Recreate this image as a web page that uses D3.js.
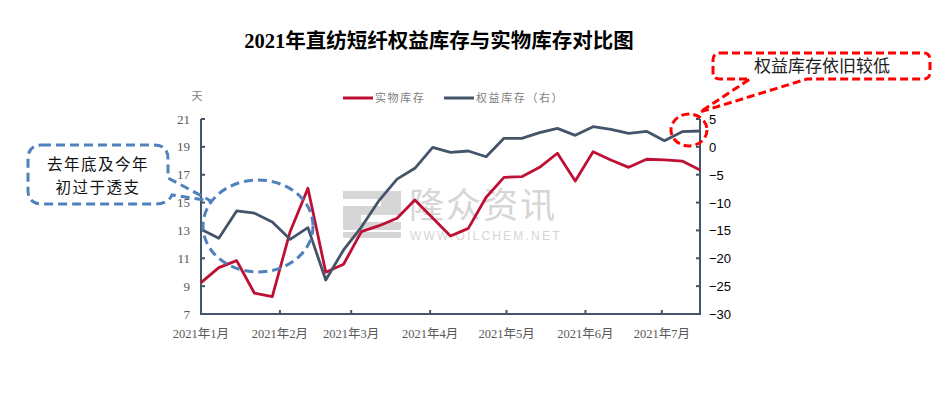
<!DOCTYPE html>
<html>
<head>
<meta charset="utf-8">
<script src="https://cdn.jsdelivr.net/npm/d3@7"></script>
<style>
  html, body { margin: 0; padding: 0; background: #ffffff; }
  svg { display: block; }
</style>
</head>
<body>
<svg id="chart" width="949" height="394"></svg>
<script>
// ---------- data ----------
const dates = [
  "2021-01-01","2021-01-08","2021-01-15","2021-01-22","2021-01-29",
  "2021-02-05","2021-02-12","2021-02-19","2021-02-26",
  "2021-03-05","2021-03-12","2021-03-19","2021-03-26",
  "2021-04-02","2021-04-09","2021-04-16","2021-04-23","2021-04-30",
  "2021-05-07","2021-05-14","2021-05-21","2021-05-28",
  "2021-06-04","2021-06-11","2021-06-18","2021-06-25",
  "2021-07-02","2021-07-09","2021-07-16"
];
// 实物库存 (left axis, days)
const physical = [9.25, 10.33, 10.83, 8.49, 8.24, 12.91, 16.03, 10.0, 10.57,
  12.91, 13.34, 13.87, 15.19, 13.9, 12.6, 13.15, 15.38, 16.81, 16.86, 17.53,
  18.54, 16.55, 18.65, 18.06, 17.53, 18.11, 18.06, 17.98, 17.34];
// 权益库存 (right axis)
const equity = [-14.8, -16.4, -11.5, -11.9, -13.5, -16.6, -14.5, -23.9, -18.5,
  -14.4, -9.6, -5.8, -3.85, -0.08, -1.0, -0.74, -1.77, 1.53, 1.53, 2.55,
  3.32, 2.07, 3.62, 3.15, 2.43, 2.79, 1.11, 2.73, 2.85];
const monthTicks = ["2021-01-01","2021-02-01","2021-03-01","2021-04-01","2021-05-01","2021-06-01","2021-07-01"];
const monthLabels = ["2021年1月","2021年2月","2021年3月","2021年4月","2021年5月","2021年6月","2021年7月"];
const leftTicks = [7, 9, 11, 13, 15, 17, 19, 21];
const rightTicks = [-30, -25, -20, -15, -10, -5, 0, 5];
const seriesNames = ["实物库存", "权益库存（右）"];
const title = "2021年直纺短纤权益库存与实物库存对比图";
const unitLabel = "天";
const noteLeft = ["去年底及今年", "初过于透支"];
const noteRight = "权益库存依旧较低";

// ---------- setup ----------
const svg = d3.select("#chart");
const parse = d3.utcParse("%Y-%m-%d");
const L = 201, R = 700, T = 119, B = 314;
const AXIS = "#44546A", RED = "#BE0F34", GRAY = "#44546A", LBL = "#595959";
const serif = "'Liberation Serif','Noto Sans CJK SC',serif";
const cjk = "'Noto Sans CJK SC','Liberation Serif',sans-serif";

const x = d3.scaleUtc().domain([parse(dates[0]), parse(dates[dates.length - 1])]).range([L, R]);
const yL = d3.scaleLinear().domain([7, 21]).range([B, T]);
const yR = d3.scaleLinear().domain([-30, 5]).range([B, T]);

// title
svg.append("text").attr("x", 439).attr("y", 48).attr("text-anchor", "middle")
  .attr("font-family", serif).attr("font-weight", "bold").attr("font-size", 20.5)
  .attr("fill", "#000").text(title);

// unit
svg.append("text").attr("x", 197).attr("y", 100).attr("text-anchor", "middle")
  .attr("font-family", cjk).attr("font-size", 11).attr("fill", "#808080").text(unitLabel);

// legend
const leg = svg.append("g");
[[343, RED, seriesNames[0]], [444, GRAY, seriesNames[1]]].forEach(([lx, c, t]) => {
  leg.append("line").attr("x1", lx).attr("x2", lx + 30).attr("y1", 98).attr("y2", 98)
    .attr("stroke", c).attr("stroke-width", 3);
  leg.append("text").attr("x", lx + 32).attr("y", 102).attr("font-family", cjk)
    .attr("font-size", 11).attr("letter-spacing", 1.6).attr("fill", "#808080").text(t);
});

// watermark
const wm = svg.append("g").attr("opacity", 0.85);
wm.append("rect").attr("x", 343).attr("y", 191).attr("width", 58).attr("height", 47).attr("fill", "#cfcfcf");
wm.append("rect").attr("x", 343).attr("y", 199).attr("width", 38).attr("height", 7).attr("fill", "#fff");
wm.append("rect").attr("x", 361).attr("y", 215).attr("width", 40).attr("height", 7).attr("fill", "#fff");
wm.append("rect").attr("x", 343).attr("y", 230).attr("width", 58).attr("height", 2).attr("fill", "#fff");
wm.append("text").attr("x", 409).attr("y", 218).attr("font-family", cjk).attr("font-size", 35)
  .attr("letter-spacing", 2).attr("fill", "#cfcfcf").text("隆众资讯");
wm.append("text").attr("x", 410).attr("y", 240).attr("font-family", "'Liberation Sans',sans-serif")
  .attr("font-size", 12).attr("letter-spacing", 2.2).attr("fill", "#cfcfcf").text("WWW.OILCHEM.NET");

// axes
const axisG = svg.append("g");
axisG.append("line").attr("x1", L).attr("x2", L).attr("y1", T).attr("y2", B).attr("stroke", AXIS).attr("stroke-width", 2);
axisG.append("line").attr("x1", R).attr("x2", R).attr("y1", T).attr("y2", B).attr("stroke", AXIS).attr("stroke-width", 2);
axisG.append("line").attr("x1", L - 1).attr("x2", R + 1).attr("y1", B).attr("y2", B).attr("stroke", AXIS).attr("stroke-width", 2);

leftTicks.forEach(v => {
  axisG.append("line").attr("x1", L).attr("x2", L + 4).attr("y1", yL(v)).attr("y2", yL(v)).attr("stroke", AXIS).attr("stroke-width", 2);
  axisG.append("text").attr("x", 190).attr("y", yL(v) + 4.5).attr("text-anchor", "end")
    .attr("font-family", serif).attr("font-size", 13).attr("fill", LBL).text(v);
});
rightTicks.forEach(v => {
  axisG.append("line").attr("x1", R - 4).attr("x2", R).attr("y1", yR(v)).attr("y2", yR(v)).attr("stroke", AXIS).attr("stroke-width", 2);
  axisG.append("text").attr("x", 709).attr("y", yR(v) + 5).attr("text-anchor", "start")
    .attr("font-family", "'Liberation Sans',sans-serif").attr("font-size", 13).attr("fill", "#000")
    .text(v < 0 ? "\u2212" + Math.abs(v) : String(v));
});
monthTicks.forEach((d, i) => {
  const px = x(parse(d));
  if (i > 0) axisG.append("line").attr("x1", px).attr("x2", px).attr("y1", B).attr("y2", B - 4).attr("stroke", AXIS).attr("stroke-width", 2);
  axisG.append("text").attr("x", px).attr("y", 338).attr("text-anchor", "middle")
    .attr("font-family", serif).attr("font-size", 12.5).attr("fill", LBL).text(monthLabels[i]);
});

// lines
const lineL = d3.line().x((d, i) => x(parse(dates[i]))).y(d => yL(d));
const lineR = d3.line().x((d, i) => x(parse(dates[i]))).y(d => yR(d));
svg.append("path").attr("d", lineL(physical)).attr("fill", "none").attr("stroke", RED)
  .attr("stroke-width", 2.8).attr("stroke-linejoin", "round");
svg.append("path").attr("d", lineR(equity)).attr("fill", "none").attr("stroke", GRAY)
  .attr("stroke-width", 2.8).attr("stroke-linejoin", "round");

// annotations
const BLUE = "#4F81BD";
svg.append("ellipse").attr("cx", 258).attr("cy", 226).attr("rx", 55).attr("ry", 46)
  .attr("fill", "none").attr("stroke", BLUE).attr("stroke-width", 3).attr("stroke-dasharray", "9,5");
const bx0 = 28, bx1 = 168, by0 = 145, by1 = 204, r = 14;
const calloutL = `M${bx0 + r},${by0} H${bx1 - r} Q${bx1},${by0} ${bx1},${by0 + r} V178 L211,201 L172,195
  Q${bx1},${by1} ${bx1 - r},${by1} H${bx0 + r} Q${bx0},${by1} ${bx0},${by1 - r} V${by0 + r} Q${bx0},${by0} ${bx0 + r},${by0} Z`;
svg.append("path").attr("d", calloutL).attr("fill", "none").attr("stroke", BLUE)
  .attr("stroke-width", 3).attr("stroke-dasharray", "9,5");
noteLeft.forEach((t, i) => {
  svg.append("text").attr("x", 98).attr("y", 170 + i * 22.5).attr("text-anchor", "middle")
    .attr("font-family", cjk).attr("font-size", 15.5).attr("letter-spacing", 1.5)
    .attr("fill", "#111").text(t);
});

const RRED = "#FF0000";
svg.append("ellipse").attr("cx", 689).attr("cy", 130).attr("rx", 18).attr("ry", 16)
  .attr("fill", "none").attr("stroke", RRED).attr("stroke-width", 3).attr("stroke-dasharray", "8,4");
const rx0 = 713, rx1 = 930, ry0 = 53, ry1 = 79, rr = 7;
const calloutR = `M${rx0 + rr},${ry0} H${rx1 - rr} Q${rx1},${ry0} ${rx1},${ry0 + rr} V${ry1 - rr} Q${rx1},${ry1} ${rx1 - rr},${ry1}
  H807 L700,112 L750,${ry1} H${rx0 + rr} Q${rx0},${ry1} ${rx0},${ry1 - rr} V${ry0 + rr} Q${rx0},${ry0} ${rx0 + rr},${ry0} Z`;
svg.append("path").attr("d", calloutR).attr("fill", "none").attr("stroke", RRED)
  .attr("stroke-width", 3).attr("stroke-dasharray", "8,4");
svg.append("text").attr("x", 822).attr("y", 72).attr("text-anchor", "middle")
  .attr("font-family", cjk).attr("font-size", 17).attr("fill", "#222").text(noteRight);
</script>
</body>
</html>
